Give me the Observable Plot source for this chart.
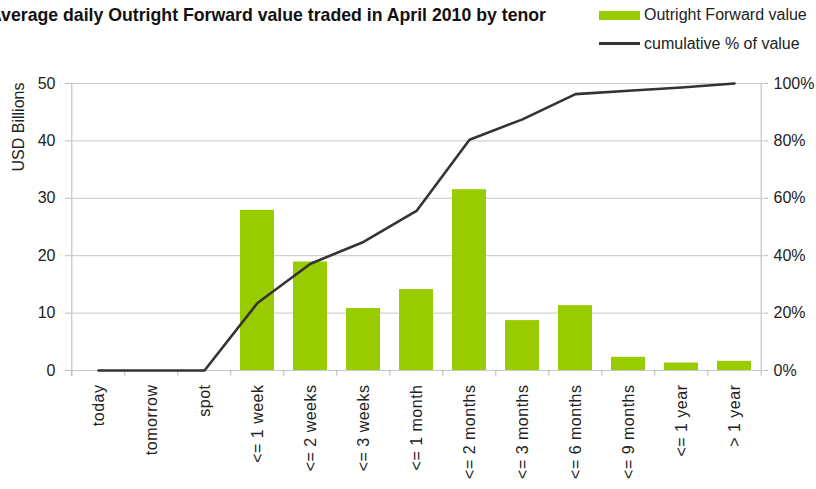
<!DOCTYPE html>
<html>
<head>
<meta charset="utf-8">
<script src="https://cdn.jsdelivr.net/npm/d3@7"></script>
<script src="https://cdn.jsdelivr.net/npm/@observablehq/plot@0.6"></script>
<style>
html, body { margin: 0; padding: 0; background: #fff; overflow: hidden; width: 816px; height: 489px; }
#wrap { position: relative; width: 816px; height: 489px; overflow: hidden; font-family: "Liberation Sans", Arial, sans-serif; }
#chart { position: absolute; left: 0; top: 0; }
#title { position: absolute; left: -11px; top: 5px; font-size: 17.7px; line-height: 20px; font-weight: bold; color: #111; white-space: nowrap; }
.leg { position: absolute; font-size: 16px; line-height: 18px; color: #222; white-space: nowrap; }
.sw { position: absolute; }
#ylab { position: absolute; left: -41px; top: 117.5px; width: 120px; text-align: center; font-size: 16px; line-height: 18px; color: #222; transform: rotate(-90deg); white-space: nowrap; }
g[aria-label="x-axis tick label"] text { letter-spacing: 0.5px; }
</style>
</head>
<body>
<div id="wrap">
  <div id="chart"></div>
  <div id="title">Average daily Outright Forward value traded in April 2010 by tenor</div>
  <div class="sw" style="left:599px;top:11px;width:41px;height:9px;background:#99cc00"></div>
  <div class="leg" style="left:644px;top:6px">Outright Forward value</div>
  <div class="sw" style="left:599px;top:41.5px;width:41px;height:3px;background:#333"></div>
  <div class="leg" style="left:644px;top:35px">cumulative % of value</div>
  <div id="ylab">USD Billions</div>
</div>
<script>
// ---- data ----
const tenors = ["today", "tomorrow", "spot", "<= 1 week", "<= 2 weeks", "<= 3 weeks", "<= 1 month",
  "<= 2 months", "<= 3 months", "<= 6 months", "<= 9 months", "<= 1 year", "> 1 year"];
const valueUSDbn = [0, 0, 0, 27.9, 18.9, 10.8, 14.1, 31.5, 8.7, 11.3, 2.3, 1.3, 1.6];
const cumulativePct = [0, 0, 0, 23.5, 37.2, 44.8, 55.6, 80.4, 87.5, 96.3, 97.5, 98.6, 100];
const leftTicks = [0, 10, 20, 30, 40, 50];
const rightTickLabels = ["0%", "20%", "40%", "60%", "80%", "100%"];

const rows = tenors.map((t, i) => ({tenor: t, value: valueUSDbn[i], cum: cumulativePct[i]}));

const W = 816, H = 489, ML = 69, MR = 53, MT = 83, MB = 119;
const step = (W - ML - MR) / tenors.length;
const axisGray = "#b8b8b8";

const chart = Plot.plot({
  width: W, height: H,
  marginLeft: ML, marginRight: MR, marginTop: MT, marginBottom: MB,
  style: {fontFamily: '"Liberation Sans", Arial, sans-serif', fontSize: "16px", color: "#222", background: "white", overflow: "visible"},
  x: {domain: tenors, paddingInner: 0.355, paddingOuter: 0.1775},
  y: {domain: [0, 50]},
  marks: [
    Plot.ruleY(leftTicks, {stroke: "#c8c8c8", strokeWidth: 1}),
    Plot.ruleX(tenors, {x: d => d, dx: -step / 2, y1: -1, y2: 0, stroke: axisGray}),
    Plot.ruleX([tenors[0]], {x: d => d, dx: -step / 2, y1: -1, y2: 50, stroke: axisGray}),
    Plot.ruleX([tenors[tenors.length - 1]], {x: d => d, dx: step / 2, y1: -1, y2: 50, stroke: axisGray}),
    Plot.barY(rows.filter(d => d.value > 0), {x: "tenor", y: "value", fill: "#99cc00"}),
    Plot.line(rows, {x: "tenor", y: d => d.cum / 2, stroke: "#333", strokeWidth: 2.6}),
    Plot.axisY(leftTicks, {anchor: "left", tickSize: 4, tickPadding: 10, stroke: axisGray, label: null, fill: "#222"}),
    Plot.axisY(leftTicks, {anchor: "right", tickSize: 4, tickPadding: 6, stroke: axisGray, label: null, fill: "#222",
      tickFormat: (d, i) => rightTickLabels[leftTicks.indexOf(d)]}),
    Plot.axisX({tickSize: 0, tickPadding: 14, tickRotate: -90, label: null, fill: "#222"})
  ]
});
document.getElementById("chart").appendChild(chart);
</script>
</body>
</html>
